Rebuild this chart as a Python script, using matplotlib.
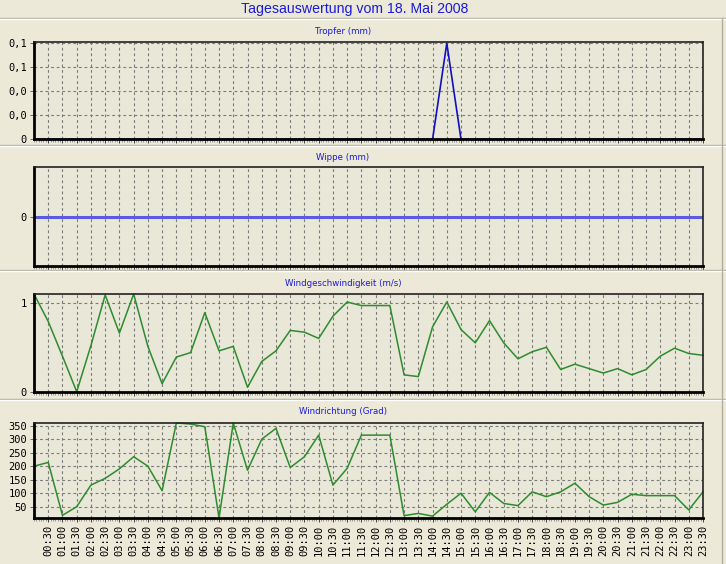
import matplotlib
matplotlib.use("Agg")
import matplotlib.pyplot as plt
from matplotlib.lines import Line2D
from matplotlib.ticker import MultipleLocator

times = ["00:00", "00:30", "01:00", "01:30", "02:00", "02:30", "03:00", "03:30",
         "04:00", "04:30", "05:00", "05:30", "06:00", "06:30", "07:00", "07:30",
         "08:00", "08:30", "09:00", "09:30", "10:00", "10:30", "11:00", "11:30",
         "12:00", "12:30", "13:00", "13:30", "14:00", "14:30", "15:00", "15:30",
         "16:00", "16:30", "17:00", "17:30", "18:00", "18:30", "19:00", "19:30",
         "20:00", "20:30", "21:00", "21:30", "22:00", "22:30", "23:00", "23:30"]

tropfer = [0.0] * 29 + [0.1] + [0.0] * 18
wippe = [0.0] * 48
windgeschw = [1.10, 0.79, 0.40, 0.00, 0.52, 1.09, 0.66, 1.10, 0.51, 0.09,
              0.39, 0.44, 0.89, 0.46, 0.51, 0.05, 0.34, 0.46, 0.69, 0.67,
              0.60, 0.85, 1.01, 0.97, 0.97, 0.97, 0.19, 0.17, 0.73, 1.01,
              0.70, 0.55, 0.80, 0.55, 0.37, 0.45, 0.50, 0.25, 0.31, 0.26,
              0.21, 0.26, 0.19, 0.25, 0.40, 0.49, 0.43, 0.41]
windrichtung = [200, 214, 18, 50, 130, 155, 190, 235, 200, 109,
                360, 356, 346, 8, 360, 185, 300, 340, 195, 235,
                315, 130, 192, 315, 315, 315, 17, 25, 15, 59,
                100, 31, 103, 62, 54, 105, 87, 105, 137, 87,
                56, 66, 96, 91, 91, 91, 38, 105]

title = "Tagesauswertung vom 18. Mai 2008"
panel_titles = ["Tropfer (mm)", "Wippe (mm)", "Windgeschwindigkeit (m/s)", "Windrichtung (Grad)"]

tropfer_ticks = [0, 0.025, 0.05, 0.075, 0.1]
tropfer_ticklabels = ["0", "0,0", "0,0", "0,1", "0,1"]
wippe_ticks = [0]
wippe_ticklabels = ["0"]
wind_ticks = [0, 1]
wind_ticklabels = ["0", "1"]
dir_ticks = [50, 100, 150, 200, 250, 300, 350]
dir_ticklabels = ["50", "100", "150", "200", "250", "300", "350"]

W, H = 726, 564
BG = "#ECE9D8"
AXBG = "#E9E7D8"
TITLE_BLUE = "#1A1AD8"
GRID = "#7A7A7A"

fig = plt.figure(figsize=(W / 100, H / 100), dpi=100, facecolor=BG)

def rect(x0, y0, x1, y1):
    return [x0 / W, 1 - y1 / H, (x1 - x0) / W, (y1 - y0) / H]

boxes = [(34, 41.7, 703, 139.3), (34, 167.3, 703, 265.7),
         (34, 294, 703, 391.7), (34, 422.7, 703, 518.3)]
title_y = [31, 157, 283, 411]

x = list(range(len(times)))
axes = []
for i, b in enumerate(boxes):
    ax = fig.add_axes(rect(*b))
    ax.set_facecolor(AXBG)
    ax.set_xlim(0, len(times) - 1)
    ax.set_xticks(x[1:])
    ax.xaxis.set_minor_locator(MultipleLocator(1 / 6))
    ax.tick_params(axis="x", which="major", length=3, width=0.7, color="#444444")
    ax.tick_params(axis="x", which="minor", length=2, width=0.5, color="#777777")
    ax.tick_params(axis="y", length=3, width=0.7, color="#666666", pad=2,
                   labelsize=7.5)
    ax.grid(True, axis="x", color=GRID, linestyle=(0, (2.5, 2.5)), linewidth=0.8)
    for s in ["left", "bottom"]:
        ax.spines[s].set_linewidth(2.0)
        ax.spines[s].set_color("black")
    for s in ["top", "right"]:
        ax.spines[s].set_linewidth(1.2)
        ax.spines[s].set_color("#222222")
    fig.text(343 / W, 1 - title_y[i] / H, panel_titles[i], ha="center", va="center",
             color=TITLE_BLUE, fontsize=6.2, family="DejaVu Sans")
    axes.append(ax)

ax1, ax2, ax3, ax4 = axes

for ax in axes[:3]:
    ax.set_xticklabels([])

# Tropfer
ax1.plot(x, tropfer, color="#1010C0", linewidth=1.2, clip_on=False)
ax1.set_ylim(0, 0.1017)
ax1.set_yticks(tropfer_ticks)
ax1.set_yticklabels(tropfer_ticklabels, family="DejaVu Sans Mono", fontsize=7.5)
ax1.grid(True, axis="y", color=GRID, linestyle=(0, (2.5, 2.5)), linewidth=0.8)

# Wippe
ax2.plot(x, wippe, color="#5A5AE0", linewidth=2.2)
ax2.set_ylim(-1, 1)
ax2.set_yticks(wippe_ticks)
ax2.set_yticklabels(wippe_ticklabels, family="DejaVu Sans Mono", fontsize=7.5)

# Windgeschwindigkeit
ax3.plot(x, windgeschw, color="#2E8B2E", linewidth=1.1, clip_on=False)
ax3.set_ylim(0, 1.1)
ax3.set_yticks(wind_ticks)
ax3.set_yticklabels(wind_ticklabels, family="DejaVu Sans Mono", fontsize=7.5)
ax3.grid(True, axis="y", color=GRID, linestyle=(0, (2.5, 2.5)), linewidth=0.8)

# Windrichtung
ax4.plot(x, windrichtung, color="#2E8B2E", linewidth=1.1, clip_on=False)
ax4.set_ylim(7, 361)
ax4.set_yticks(dir_ticks)
ax4.set_yticklabels(dir_ticklabels, family="DejaVu Sans Mono", fontsize=7.5)
ax4.grid(True, axis="y", color=GRID, linestyle=(0, (2.5, 2.5)), linewidth=0.8)
ax4.set_xticklabels(times[1:], rotation=90, family="DejaVu Sans Mono", fontsize=7.5)
ax4.tick_params(axis="x", which="major", pad=2)

# Title
fig.text(355 / W, 1 - 9 / H, title, ha="center", va="center", color=TITLE_BLUE,
         fontsize=10.2, family="Liberation Sans")

# Etched separator lines
for yy in [18, 145, 270, 399]:
    fig.add_artist(Line2D([0, 1], [1 - yy / H, 1 - yy / H], color="#B0AE9F",
                          linewidth=1.0, transform=fig.transFigure))
    fig.add_artist(Line2D([0, 1], [1 - (yy + 1) / H, 1 - (yy + 1) / H], color="#FFFFFF",
                          linewidth=1.0, transform=fig.transFigure))
fig.add_artist(Line2D([722 / W, 722 / W], [0, 1 - 18 / H], color="#B0AE9F",
                      linewidth=1.0, transform=fig.transFigure))

fig.savefig("out.png", dpi=100, facecolor=BG)
